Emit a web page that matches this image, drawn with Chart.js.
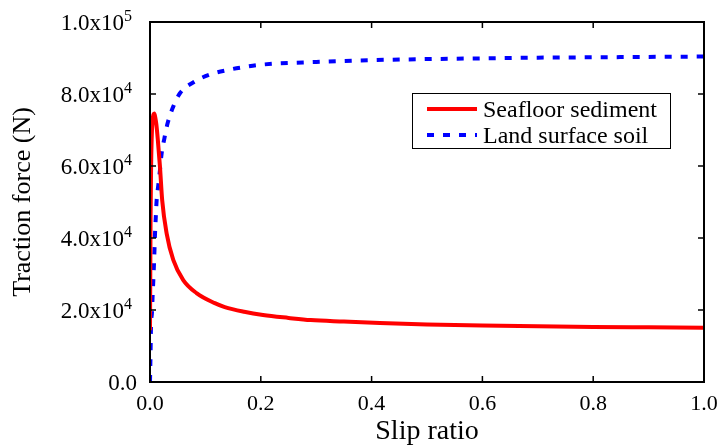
<!DOCTYPE html>
<html>
<head>
<meta charset="utf-8">
<script src="https://cdn.jsdelivr.net/npm/chart.js@4.4.1/dist/chart.umd.min.js"></script>
<style>
  html, body { margin: 0; padding: 0; background: #fff; }
  #wrap { width: 720px; height: 448px; position: relative; }
</style>
</head>
<body>
<div id="wrap"><canvas id="c" width="720" height="448"></canvas></div>
<script>
// ---- Data ----
const seriesNames = ['Seafloor sediment', 'Land surface soil'];

const seafloorSlip  = [0, 0.0005, 0.001, 0.002, 0.003, 0.0045, 0.0062, 0.0078, 0.0095, 0.0115, 0.014, 0.018, 0.022, 0.03, 0.042, 0.06, 0.084, 0.117, 0.135, 0.17, 0.204, 0.25, 0.29, 0.35, 0.415, 0.5, 0.6, 0.7, 0.8, 0.9, 1.0];
const seafloorForce = [14400, 30000, 45000, 60000, 67500, 72500, 74300, 74600, 73500, 71500, 67500, 59800, 50500, 41300, 33900, 28300, 24700, 21900, 20800, 19500, 18600, 17800, 17200, 16800, 16400, 16000, 15700, 15500, 15300, 15200, 15100];

const landSlip  = [0, 0.001, 0.0018, 0.0036, 0.0048, 0.006, 0.0075, 0.009, 0.0105, 0.012, 0.015, 0.018, 0.021, 0.026, 0.032, 0.042, 0.054, 0.08, 0.11, 0.141, 0.175, 0.205, 0.3, 0.4, 0.5, 0.6, 0.7, 0.8, 0.9, 1.0];
const landForce = [0, 8000, 15400, 19500, 24200, 28300, 34000, 41000, 46000, 50500, 54700, 58900, 63500, 67700, 72000, 76500, 80200, 83400, 85500, 86700, 87600, 88200, 88900, 89400, 89700, 89900, 90100, 90200, 90300, 90400];

const xTickLabels = ['0.0', '0.2', '0.4', '0.6', '0.8', '1.0'];
const yTickLabels = ['0.0', '2.0x10\u2074', '4.0x10\u2074', '6.0x10\u2074', '8.0x10\u2074', '1.0x10\u2075'];

const xAxisTitle = 'Slip ratio';
const yAxisTitle = 'Traction force (N)';

// ---- Chart ----
const FONT = '"Liberation Serif", "Times New Roman", serif';
const SUP = { '\u2070': '0', '\u00b9': '1', '\u00b2': '2', '\u00b3': '3', '\u2074': '4', '\u2075': '5', '\u2076': '6', '\u2077': '7', '\u2078': '8', '\u2079': '9' };

const toPoints = (xs, ys) => xs.map((x, i) => ({ x: x, y: ys[i] }));

const framePlugin = {
  id: 'frame',
  afterDraw(chart) {
    const ctx = chart.ctx;
    const a = chart.chartArea;
    const xs = chart.scales.x, ys = chart.scales.y;
    ctx.save();
    ctx.strokeStyle = '#000';
    ctx.lineWidth = 2;
    ctx.strokeRect(a.left, a.top, a.right - a.left, a.bottom - a.top);
    ctx.lineWidth = 1.5;
    const tl = 6;
    ctx.beginPath();
    xs.ticks.forEach(t => {
      const px = xs.getPixelForValue(t.value);
      ctx.moveTo(px, a.bottom); ctx.lineTo(px, a.bottom - tl);
      ctx.moveTo(px, a.top); ctx.lineTo(px, a.top + tl);
    });
    ys.ticks.forEach(t => {
      const py = ys.getPixelForValue(t.value);
      ctx.moveTo(a.left, py); ctx.lineTo(a.left + tl, py);
      ctx.moveTo(a.right, py); ctx.lineTo(a.right - tl, py);
    });
    ctx.stroke();

    // y tick labels with superscript exponents
    ctx.fillStyle = '#000';
    ctx.textBaseline = 'alphabetic';
    ys.ticks.forEach((t, i) => {
      const label = yTickLabels[i];
      const py = ys.getPixelForValue(t.value);
      const last = label.charAt(label.length - 1);
      if (SUP[last]) {
        const mant = label.slice(0, -1);
        ctx.font = '16px ' + FONT;
        ctx.textAlign = 'right';
        const expRight = a.left - 18;
        ctx.fillText(SUP[last], expRight, py - 1);
        const ew = ctx.measureText(SUP[last]).width;
        ctx.font = '23px ' + FONT;
        ctx.fillText(mant, expRight - ew, py + 8);
      } else {
        ctx.font = '23px ' + FONT;
        ctx.textAlign = 'right';
        ctx.fillText(label, a.left - 13, py + 8);
      }
    });

    // legend box
    const bx = 412, by = 93, bw = 258, bh = 55;
    ctx.fillStyle = '#fff';
    ctx.fillRect(bx, by, bw, bh);
    ctx.lineWidth = 1;
    ctx.strokeStyle = '#000';
    ctx.strokeRect(bx + 0.5, by + 0.5, bw, bh);
    chart.data.datasets.forEach((ds, i) => {
      const ly = by + 16 + i * 26;
      ctx.beginPath();
      ctx.strokeStyle = ds.borderColor;
      ctx.lineWidth = ds.borderWidth;
      ctx.setLineDash(ds.borderDash || []);
      ctx.moveTo(427, ly); ctx.lineTo(477, ly);
      ctx.stroke();
      ctx.setLineDash([]);
      ctx.fillStyle = '#000';
      ctx.font = '24px ' + FONT;
      ctx.textBaseline = 'alphabetic';
      ctx.textAlign = 'left';
      ctx.fillText(ds.label, 483, ly + 8);
    });
    ctx.restore();
  }
};

new Chart(document.getElementById('c'), {
  type: 'scatter',
  data: {
    datasets: [
      {
        label: seriesNames[0],
        data: toPoints(seafloorSlip, seafloorForce),
        showLine: true,
        borderColor: '#ff0000',
        backgroundColor: '#ff0000',
        borderWidth: 4,
        pointRadius: 0,
        cubicInterpolationMode: 'monotone'
      },
      {
        label: seriesNames[1],
        data: toPoints(landSlip, landForce),
        showLine: true,
        borderColor: '#0000ff',
        backgroundColor: '#0000ff',
        borderWidth: 4,
        borderDash: [7, 9],
        pointRadius: 0,
        cubicInterpolationMode: 'monotone'
      }
    ]
  },
  options: {
    responsive: false,
    animation: false,
    layout: { padding: { left: 0, top: 22, right: 16, bottom: 0 } },
    plugins: { legend: { display: false }, tooltip: { enabled: false } },
    scales: {
      x: {
        type: 'linear', min: 0, max: 1,
        afterFit(s) { s.height = 66; s.paddingLeft = 0; s.paddingRight = 0; },
        afterBuildTicks(s) { s.ticks = xTickLabels.map((_, i) => ({ value: i * 0.2 })); },
        ticks: {
          padding: 9, color: '#000', maxRotation: 0, autoSkip: false,
          font: { family: FONT, size: 22 },
          callback: (v, i) => xTickLabels[i]
        },
        grid: { display: true, drawOnChartArea: false, drawTicks: false },
        border: { display: false },
        title: {
          display: true, text: xAxisTitle, color: '#000',
          font: { family: FONT, size: 28 }, padding: { top: 0, bottom: 0 }
        }
      },
      y: {
        type: 'linear', min: 0, max: 100000,
        afterFit(s) { s.width = 150; s.paddingTop = 0; s.paddingBottom = 0; },
        afterBuildTicks(s) { s.ticks = yTickLabels.map((_, i) => ({ value: i * 20000 })); },
        ticks: { display: false },
        grid: { display: true, drawOnChartArea: false, drawTicks: false },
        border: { display: false },
        title: {
          display: true, text: yAxisTitle, color: '#000',
          font: { family: FONT, size: 26 }, padding: { top: 8, bottom: 0 }
        }
      }
    }
  },
  plugins: [framePlugin]
});
</script>
</body>
</html>
